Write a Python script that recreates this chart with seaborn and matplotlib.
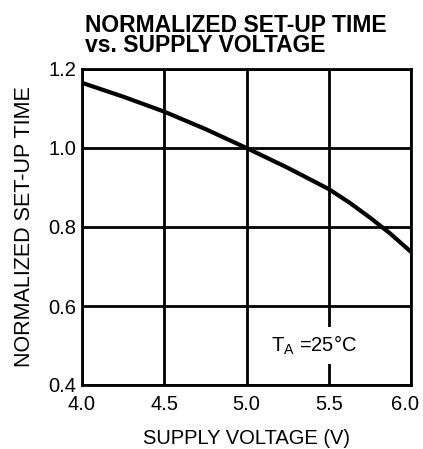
import matplotlib
matplotlib.use("Agg")
import matplotlib.pyplot as plt
import matplotlib.transforms as mtransforms
import seaborn as sns

voltage = [4.0, 4.25, 4.5, 4.75, 5.0, 5.25, 5.5, 5.625, 5.75, 5.875, 6.0]
setup_time = [1.165, 1.13, 1.092, 1.048, 1.0, 0.95, 0.896, 0.862, 0.824, 0.783, 0.737]

sns.set_theme(style="white")
plt.rcParams["font.family"] = ["Liberation Sans", "DejaVu Sans"]
plt.rcParams["text.color"] = "black"

fig = plt.figure(figsize=(4.23, 4.49), dpi=100)
ax = fig.add_axes([82/423, 1 - 385/449, (411-82)/423, (385-69)/449])

sns.lineplot(x=voltage, y=setup_time, ax=ax, color="black", lw=3)

ax.set_xlim(4.0, 6.0)
ax.set_ylim(0.4, 1.2)
ax.set_xticks([4.0, 4.5, 5.0, 5.5, 6.0])
ax.set_yticks([0.4, 0.6, 0.8, 1.0, 1.2])
ax.set_xticklabels(["4.0", "4.5", "5.0", "5.5", "6.0"])
ax.set_yticklabels(["0.4", "0.6", "0.8", "1.0", "1.2"])
ax.tick_params(labelsize=14.5, length=0, colors="black")
ax.tick_params(axis="x", pad=7)
ax.tick_params(axis="y", pad=4)
# nudge the last x label inward so it stays inside the figure
last = ax.get_xticklabels()[-1]
last.set_transform(last.get_transform() + mtransforms.ScaledTranslation(-6/100, 0, fig.dpi_scale_trans))
ax.grid(True, color="black", lw=2)
for s in ax.spines.values():
    s.set_color("black")
    s.set_linewidth(2)

ax.text(5.41, 0.5, "T$_\\mathregular{A}$ =25°C", ha="center", va="center", fontsize=14.5,
        bbox=dict(facecolor="white", edgecolor="none", pad=5))

ax.set_xlabel("SUPPLY VOLTAGE (V)", fontsize=14.5, labelpad=11, color="black")
ax.set_ylabel("NORMALIZED SET-UP TIME", fontsize=15.5, labelpad=10, color="black")
fig.text(85/423, 1 - 52/449, "NORMALIZED SET-UP TIME\nvs. SUPPLY VOLTAGE", fontsize=16.5,
         fontweight="bold", ha="left", va="baseline", linespacing=0.85, color="black")

fig.savefig("out.png", dpi=100)
